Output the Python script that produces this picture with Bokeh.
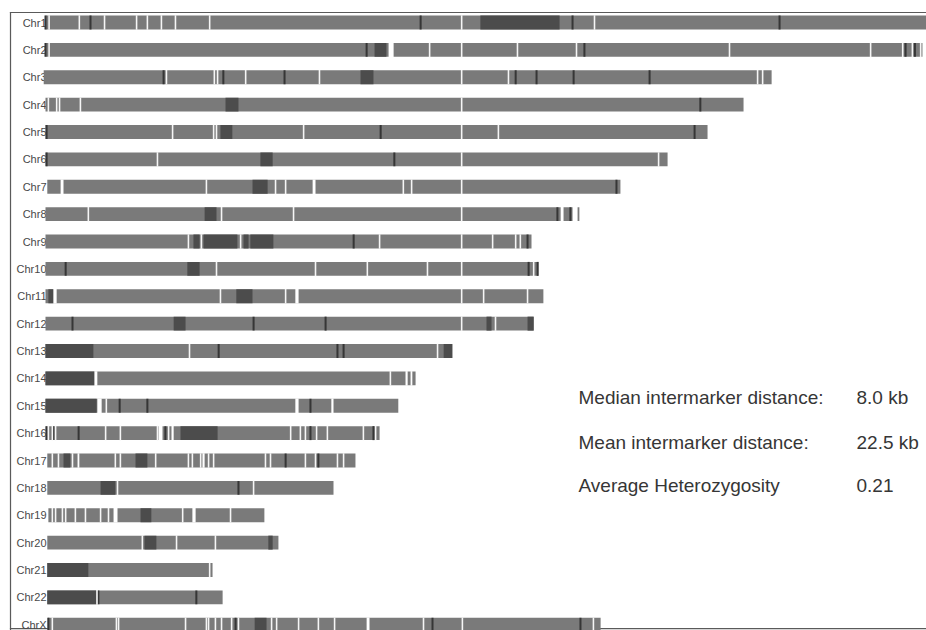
from bokeh.plotting import figure
from bokeh.models import Range1d, Label
from bokeh.embed import file_html
from bokeh.resources import INLINE
from bokeh.core.properties import value

# ---------------- data (positions in Mb) ----------------
names = ["Chr1", "Chr2", "Chr3", "Chr4", "Chr5", "Chr6", "Chr7", "Chr8", "Chr9", "Chr10",
         "Chr11", "Chr12", "Chr13", "Chr14", "Chr15", "Chr16", "Chr17", "Chr18", "Chr19",
         "Chr20", "Chr21", "Chr22", "ChrX"]
starts = [0.0, 0.0, -0.5, 0.0, 0.0, 0.0, 0.5, 0.0, 0.0, 0.0, 0.0, 0.0, 0.0, 0.0, 0.0,
          0.0, 0.5, 0.5, 0.8, 0.5, 0.5, 0.5, 0.6]
lengths = [249.0, 243.6, 201.7, 193.9, 183.9, 172.8, 159.7, 148.3, 135.0, 136.9, 138.3,
           135.6, 113.0, 102.8, 98.0, 92.8, 86.1, 80.0, 60.8, 64.7, 46.4, 49.2, 154.2]

dark_blocks = [
    [(120.8, 142.8)],
    [(91.4, 94.7)],
    [(87.5, 91.1)],
    [(50.0, 53.6)],
    [(48.6, 51.9)],
    [(59.7, 63.1)],
    [(57.5, 61.7)],
    [(44.2, 47.5)],
    [(41.1, 42.8), (43.9, 53.3), (55.0, 56.4), (56.9, 63.3)],
    [(39.4, 42.8)],
    [(0.8, 2.2), (53.0, 57.5)],
    [(35.6, 38.9), (122.5, 123.9), (133.9, 135.6)],
    [(0.0, 13.3), (110.6, 113.0)],
    [(0.0, 13.6)],
    [(0.0, 14.2)],
    [(37.5, 47.8)],
    [(5.0, 6.9), (25.0, 28.3)],
    [(15.3, 19.4)],
    [(26.4, 29.4)],
    [(27.5, 30.8), (61.9, 63.1)],
    [(0.5, 11.9)],
    [(0.5, 14.2)],
    [(58.1, 61.4)],
]

dark_lines = [
    [0.0, 12.5, 104.2, 146.4, 203.9],
    [0.0, 89.2, 149.7, 238.9, 241.5],
    [32.8, 49.4, 66.4, 130.6, 136.4, 146.7, 167.8],
    [181.9],
    [0.3, 93.1, 180.3],
    [0.3, 96.9],
    [158.6],
    [142.2, 145.8],
    [85.6, 133.9],
    [5.6, 134.2, 136.7],
    [],
    [7.5, 57.8, 77.8],
    [48.1, 81.1, 82.8],
    [],
    [20.6, 28.3, 73.6],
    [0.3, 2.2, 9.2, 33.3, 73.6, 91.1],
    [66.7, 75.8],
    [53.6],
    [],
    [],
    [],
    [14.7, 41.9],
    [0.8, 52.8, 107.5, 148.6],
]

white_lines = [
    [1.0, 9.4, 16.4, 25.3, 28.3, 32.2, 36.1, 45.6, 115.6, 152.5],
    [1.0, 106.7, 115.6, 131.1, 147.5, 190.0, 229.2, 238.1, 240.8, 243.1],
    [33.6, 46.9, 47.8, 55.6, 76.1, 115.6, 128.6, 197.8, 199.2],
    [0.8, 3.1, 3.9, 9.7, 115.6],
    [35.3, 46.7, 47.5, 71.7, 115.6, 125.8],
    [31.1, 115.6, 170.3],
    [44.7, 63.9, 66.7, 99.4, 101.7, 115.6],
    [11.9, 48.9, 68.9, 115.6],
    [39.7, 43.3, 54.2, 92.8, 115.6, 124.2, 130.6, 131.9],
    [47.5, 75.0, 89.4, 106.1, 115.6, 135.6],
    [48.6, 66.7, 115.6, 121.7, 133.9],
    [115.6, 125.0],
    [40.0, 108.9],
    [95.8],
    [16.9],
    [0.8, 1.9, 2.8, 16.7, 20.8, 31.1, 34.2, 68.1, 70.8, 72.2, 75.3, 78.3, 88.3, 91.7],
    [1.9, 3.6, 7.5, 19.4, 20.8, 30.6, 39.7, 40.8, 43.1, 45.3, 46.7, 61.1, 62.5, 72.2,
     75.0, 81.1, 82.8],
    [20.0, 57.8],
    [1.9, 2.8, 4.7, 5.6, 8.3, 11.1, 15.3, 17.5, 38.1, 51.4],
    [26.9, 36.4, 47.2],
    [45.6],
    [14.3],
    [1.9, 19.7, 20.3, 38.9, 44.7, 45.3, 47.2, 48.9, 51.7, 53.6, 62.8, 64.2, 70.3, 75.8,
     80.3, 105.0, 115.8, 152.2],
]

white_gaps = [
    [], [(95.3, 96.7)], [], [], [], [],
    [(4.2, 5.0), (74.2, 75.0)],
    [(143.1, 143.9), (146.4, 147.8)],
    [], [],
    [(2.2, 3.1), (69.4, 70.3)],
    [], [],
    [(13.6, 14.4), (100.0, 100.6), (101.4, 101.9)],
    [(14.4, 15.6), (69.4, 70.3), (79.4, 80.0)],
    [(31.4, 32.5), (35.0, 35.6)],
    [(8.9, 9.4), (43.6, 44.2)],
    [], [(18.9, 20.0), (40.8, 41.7)], [], [], [],
    [(89.2, 90.0)],
]

stat_labels = ["Median intermarker distance:", "Mean intermarker distance:",
               "Average Heterozygosity"]
stat_values = ["8.0 kb", "22.5 kb", "0.21"]

# ---------------- styling ----------------
BASE = "#7a7a7a"
DARK = "#4c4c4c"
DLINE = "#363636"
WHITE = "#f6f6f6"
TXT = "#363636"
FRAME = "#5a5a5a"
BAR_H = 0.51
FONT = "Liberation Sans"

rows = list(range(len(names)))

p = figure(width=926, height=630, output_backend="svg", toolbar_location=None,
           x_range=Range1d(-12.5, 244.72), y_range=Range1d(22.21, -0.804),
           x_axis_location=None, y_axis_location=None, min_border=0)
p.grid.visible = False
p.outline_line_color = None
p.background_fill_color = "white"
p.border_fill_color = "white"

# frame (left, top, bottom) drawn as thin filled strips
fx = -9.72
p.quad(left=[fx - 0.17, fx - 0.17, fx - 0.17], right=[fx + 0.17, 260.0, 260.0],
       top=[-0.385, -0.385, 22.12], bottom=[22.3, -0.345, 22.16],
       fill_color=FRAME, line_color=None)

# chromosome labels
p.text(x=[0.0] * len(names), y=rows, text=names, text_align="right",
       text_baseline="middle", text_font=value(FONT), text_font_size="11px",
       text_color="#484848", x_offset=1)

# base bars
p.hbar(y=rows, left=starts, right=lengths, height=BAR_H, fill_color=BASE,
       line_color=None)

# dark blocks
bl, br, by = [], [], []
for i, blocks in enumerate(dark_blocks):
    for s, e in blocks:
        bl.append(s); br.append(e); by.append(i)
p.hbar(y=by, left=bl, right=br, height=BAR_H, fill_color=DARK, line_color=None)

# dark thin lines (as narrow bars)
dx, dy = [], []
for i, pos in enumerate(dark_lines):
    for x in pos:
        dx.append(x); dy.append(i)
p.hbar(y=dy, left=[x - 0.28 for x in dx], right=[x + 0.28 for x in dx], height=BAR_H,
       fill_color=DLINE, line_color=None)

# wide white gaps
gl, gr, gy = [], [], []
for i, gaps in enumerate(white_gaps):
    for s, e in gaps:
        gl.append(s); gr.append(e); gy.append(i)
p.hbar(y=gy, left=gl, right=gr, height=BAR_H + 0.02, fill_color="white",
       line_color=None)

# thin white lines (as narrow bars)
wx, wy = [], []
for i, pos in enumerate(white_lines):
    for x in pos:
        wx.append(x); wy.append(i)
p.hbar(y=wy, left=[x - 0.22 for x in wx], right=[x + 0.22 for x in wx],
       height=BAR_H + 0.02, fill_color=WHITE, line_color=None)

# statistics text
ys = [233, 188, 145]
for lab, val, yy in zip(stat_labels, stat_values, ys):
    p.add_layout(Label(x=578, y=yy, x_units="screen", y_units="screen", text=lab,
                       text_baseline="middle", text_font=FONT, text_font_size="19px",
                       text_color=TXT))
    p.add_layout(Label(x=856, y=yy, x_units="screen", y_units="screen", text=val,
                       text_baseline="middle", text_font=FONT, text_font_size="19px",
                       text_color=TXT))

open("out.html", "w").write(file_html(p, INLINE))
